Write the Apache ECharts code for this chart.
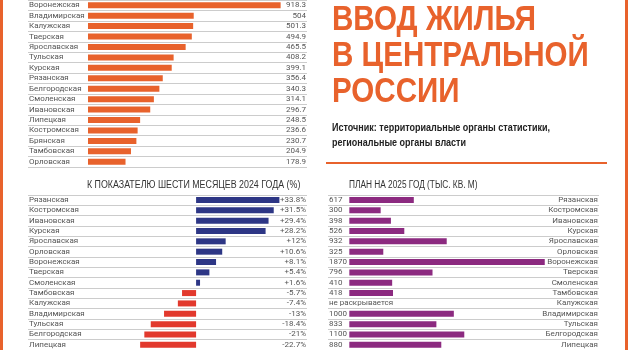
<!DOCTYPE html>
<html>
<head>
<meta charset="utf-8">
<script src="https://cdn.jsdelivr.net/npm/echarts@6/dist/echarts.min.js"></script>
<style>
  html, body { margin: 0; padding: 0; background: #fff; }
  #chart { width: 630px; height: 350px; }
</style>
</head>
<body>
<div id="chart"></div>
<script>
// ввод жилья, тыс. кв. м
const topRegions = ['Воронежская', 'Владимирская', 'Калужская', 'Тверская', 'Ярославская', 'Тульская', 'Курская', 'Рязанская',
  'Белгородская', 'Смоленская', 'Ивановская', 'Липецкая', 'Костромская', 'Брянская', 'Тамбовская', 'Орловская']
const topValues = [918.3, 504, 501.3, 494.9, 465.5, 408.2, 399.1, 356.4, 340.3, 314.1, 296.7, 248.5, 236.6, 230.7, 204.9, 178.9]

// к показателю шести месяцев 2024 года, %
const changeRegions = ['Рязанская', 'Костромская', 'Ивановская', 'Курская', 'Ярославская', 'Орловская', 'Воронежская', 'Тверская',
  'Смоленская', 'Тамбовская', 'Калужская', 'Владимирская', 'Тульская', 'Белгородская', 'Липецкая']
const changeValues = [33.8, 31.5, 29.4, 28.2, 12, 10.6, 8.1, 5.4, 1.6, -5.7, -7.4, -13, -18.4, -21, -22.7]

// план на 2025 год, тыс. кв. м (null - не раскрывается)
const planRegions = changeRegions
const planValues = [617, 300, 398, 526, 932, 325, 1870, 796, 410, 418, null, 1000, 833, 1100, 880]

const ORANGE = '#e8622c'
const NAVY = '#2d3685'
const RED = '#e2392d'
const PURPLE = '#8c2a80'
const FONT = "'Liberation Sans', sans-serif"
const LABEL_FONT = "Roboto, 'Liberation Sans', sans-serif"

const chart = echarts.init(document.getElementById('chart'))

function catAxis (gridIndex, data, side, fmt, withLines) {
  return {
    type: 'category',
    gridIndex: gridIndex,
    data: data,
    inverse: true,
    position: side,
    axisLine: { show: false },
    axisTick: { show: false },
    axisLabel: {
      inside: true,
      interval: 0,
      margin: 1,
      fontFamily: LABEL_FONT,
      fontSize: 8,
      color: '#555',
      formatter: fmt
    },
    splitLine: {
      show: withLines,
      interval: 0,
      lineStyle: { color: '#cccccc', width: 1 }
    }
  }
}

// condensed-looking text: the narrow face is not installed, so squeeze it
function squeezed (text, x, y, size, weight, color, scale, lineHeight) {
  return {
    type: 'text',
    x: x,
    y: y,
    scaleX: scale,
    style: {
      text: text,
      fontFamily: FONT,
      fontSize: size,
      fontWeight: weight,
      lineHeight: lineHeight || size,
      fill: color
    }
  }
}

const option = {
  animation: false,
  graphic: [
    { type: 'rect', shape: { x: 0, y: 0, width: 3, height: 350 }, style: { fill: ORANGE } },
    { type: 'rect', shape: { x: 625, y: 0, width: 3, height: 350 }, style: { fill: ORANGE } },
    { type: 'rect', shape: { x: 326, y: 162, width: 281, height: 2 }, style: { fill: ORANGE } },
    squeezed('ВВОД ЖИЛЬЯ\nВ ЦЕНТРАЛЬНОЙ\nРОССИИ', 332, 2, 35, 'bold', ORANGE, 0.845, 36),
    squeezed('Источник: территориальные органы статистики,\nрегиональные органы власти', 332, 121, 10, 'bold', '#222', 0.9, 15),
    squeezed('К ПОКАЗАТЕЛЮ ШЕСТИ МЕСЯЦЕВ 2024 ГОДА (%)', 87, 180, 10, 'normal', '#333', 0.885),
    squeezed('ПЛАН НА 2025 ГОД (ТЫС. КВ. М)', 349, 180, 10, 'normal', '#333', 0.83)
  ],
  grid: [
    { left: 28, width: 279, top: -2, height: 169 },
    { left: 28, width: 279, top: 194.75, height: 157.5 },
    { left: 328, width: 271, top: 194.75, height: 157.5 }
  ],
  xAxis: [
    { type: 'value', gridIndex: 0, min: -286, max: 1044, show: false },
    { type: 'value', gridIndex: 1, min: -68.2, max: 45, show: false },
    { type: 'value', gridIndex: 2, min: -204, max: 2389, show: false }
  ],
  yAxis: [
    catAxis(0, topRegions, 'left', null, true),
    catAxis(0, topRegions, 'right', (v, i) => String(topValues[i]), false),
    catAxis(1, changeRegions, 'left', null, true),
    catAxis(1, changeRegions, 'right', (v, i) => (changeValues[i] > 0 ? '+' : '') + changeValues[i] + '%', false),
    catAxis(2, planRegions, 'left', (v, i) => planValues[i] == null ? 'не раскрывается' : String(planValues[i]), true),
    catAxis(2, planRegions, 'right', null, false)
  ],
  series: [
    {
      type: 'bar',
      xAxisIndex: 0,
      yAxisIndex: 0,
      barWidth: 6,
      itemStyle: { color: ORANGE },
      data: topValues
    },
    {
      type: 'bar',
      xAxisIndex: 1,
      yAxisIndex: 2,
      barWidth: 6,
      data: changeValues.map(v => ({ value: v, itemStyle: { color: v >= 0 ? NAVY : RED } }))
    },
    {
      type: 'bar',
      xAxisIndex: 2,
      yAxisIndex: 4,
      barWidth: 6,
      itemStyle: { color: PURPLE },
      data: planValues
    }
  ]
}

chart.setOption(option)
</script>
</body>
</html>
